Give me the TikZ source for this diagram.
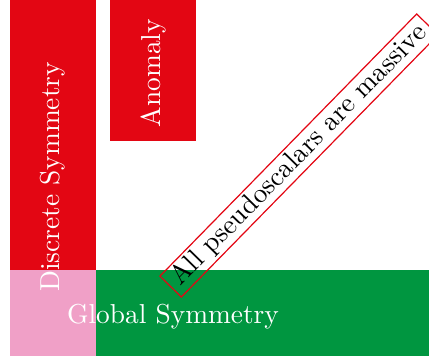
\documentclass[tikz,border=0pt]{standalone}
\usepackage{fontspec}
\usetikzlibrary{positioning}

\definecolor{symred}{RGB}{227,6,19}
\definecolor{symgreen}{RGB}{0,150,64}
\definecolor{symrose}{RGB}{240,160,199}

\begin{document}
\begin{tikzpicture}[
    x=1pt, y=1pt,
    node distance=0pt,
    bar/.style={inner sep=0pt, outer sep=0pt, minimum width=86pt},
    barlabel/.style={text=white, scale=2.74, inner sep=0pt},
    claim/.style={draw=symred, line width=1.2pt, scale=2.74, inner xsep=2.5pt, inner ysep=0.9pt},
]
\useasboundingbox (0,0) rectangle (429,363);

\node[bar, fill=symred, minimum height=270pt, anchor=north west] (discrete) at (10,363) {};
\node[bar, fill=symrose, minimum height=86pt, below=of discrete] (overlap) {};
\node[bar, fill=symgreen, minimum width=333pt, minimum height=86pt, right=of overlap] (global) {};
\node[bar, fill=symred, minimum height=141pt, anchor=north west] (anomaly) at (110,363) {};

\node[barlabel, rotate=90] (discretetext) at (53,186) {Discrete Symmetry};
\node[barlabel, rotate=90] (anomalytext) at (153,290) {Anomaly};
\node[barlabel] (globaltext) at (173,46) {Global Symmetry};

\node[claim, rotate=45.6] (massive) at (299,207.5) {All pseudoscalars are massive};

\end{tikzpicture}
\end{document}
